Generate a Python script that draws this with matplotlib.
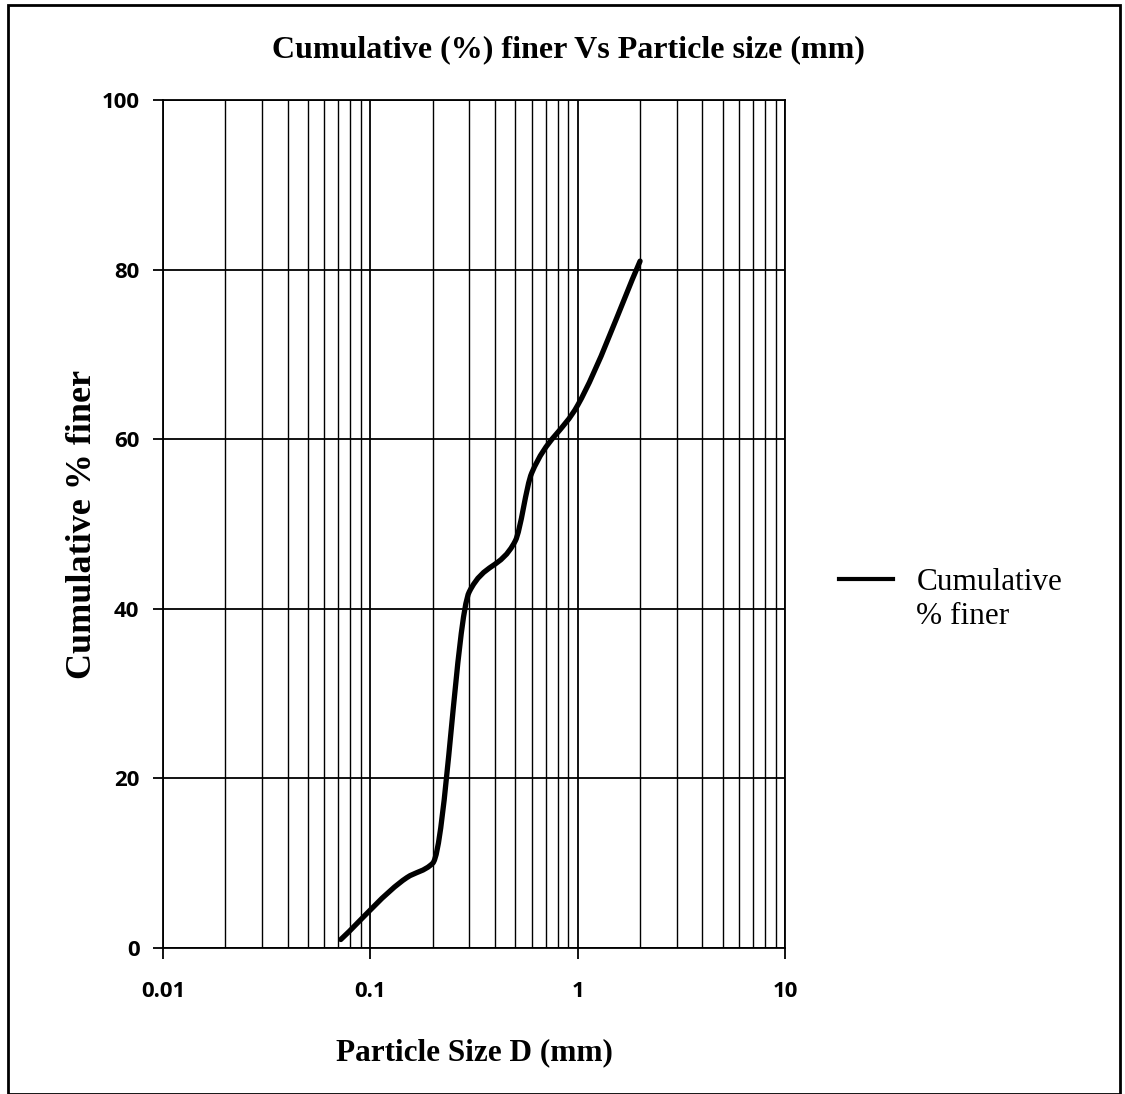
import numpy as np
import matplotlib
matplotlib.use("Agg")
import matplotlib.pyplot as plt
from matplotlib.path import Path
from matplotlib.patches import PathPatch, Rectangle
from matplotlib.lines import Line2D
from matplotlib.ticker import LogLocator, FixedLocator, NullFormatter

# Data
particle_size_mm = [0.072, 0.15, 0.2, 0.3, 0.5, 0.6, 1.0, 2.0]
cumulative_finer = [1.0, 8.3, 10.0, 42.0, 48.0, 56.0, 64.0, 81.0]
x_tick_values = [0.01, 0.1, 1, 10]
x_tick_labels = ["0.01", "0.1", "1", "10"]
y_tick_values = [0, 20, 40, 60, 80, 100]

fig = plt.figure(figsize=(11.25, 10.94), dpi=100)
ax = fig.add_axes([163/1125, 1 - 948/1094, (785-163)/1125, (948-100)/1094])
ax.set_xscale("log")
ax.set_xlim(0.01, 10)
ax.set_ylim(0, 100)

# Smooth monotone curve (cubic Bezier path with Fritsch-Carlson tangents in log-x space)
lx = np.log10(particle_size_mm)
yy = np.array(cumulative_finer, dtype=float)
n = len(lx)
h = np.diff(lx)
d = np.diff(yy) / h
m = np.zeros(n)
m[0], m[-1] = d[0], d[-1]
for i in range(1, n - 1):
    if d[i-1] * d[i] <= 0:
        m[i] = 0
    else:
        w1 = 2*h[i] + h[i-1]
        w2 = h[i] + 2*h[i-1]
        m[i] = (w1 + w2) / (w1/d[i-1] + w2/d[i])
verts = [(particle_size_mm[0], yy[0])]
codes = [Path.MOVETO]
for i in range(n - 1):
    c1 = (lx[i] + h[i]/3, yy[i] + m[i]*h[i]/3)
    c2 = (lx[i+1] - h[i]/3, yy[i+1] - m[i+1]*h[i]/3)
    for c in (c1, c2, (lx[i+1], yy[i+1])):
        verts.append((10**c[0], c[1]))
        codes.append(Path.CURVE4)
ax.add_patch(PathPatch(Path(verts, codes), facecolor="none", edgecolor="black", lw=3.8,
                       capstyle="round", joinstyle="round", zorder=5))

# Grid & ticks
ax.xaxis.set_major_locator(FixedLocator(x_tick_values))
ax.xaxis.set_minor_locator(LogLocator(base=10, subs=np.arange(2, 10)))
ax.xaxis.set_minor_formatter(NullFormatter())
ax.set_xticks(x_tick_values)
ax.set_xticklabels(x_tick_labels)
ax.set_yticks(y_tick_values)
ax.grid(True, which="major", axis="both", color="black", lw=1.3)
ax.grid(True, which="minor", axis="x", color="black", lw=1.0)
ax.tick_params(axis="x", which="major", length=8, width=1.3, direction="out", pad=16)
ax.tick_params(axis="x", which="minor", length=0)
ax.tick_params(axis="y", which="major", length=7, width=1.3, direction="out", pad=10)
for lab in ax.get_xticklabels() + ax.get_yticklabels():
    lab.set_fontfamily("Open Sans")
    lab.set_fontweight("bold")
    lab.set_fontsize(16)
for s in ax.spines.values():
    s.set_color("black")
    s.set_linewidth(1.3)

fig.text(568/1125, 1 - 50/1094, "Cumulative (%) finer Vs Particle size (mm)",
         fontfamily="Liberation Serif", fontweight="bold", fontsize=23,
         ha="center", va="center")
ax.set_xlabel("Particle Size D (mm)", fontfamily="Liberation Serif", fontweight="bold",
              fontsize=22.5, labelpad=26)
ax.set_ylabel("Cumulative % finer", fontfamily="Liberation Serif", fontweight="bold",
              fontsize=26, labelpad=2)

handles = [Line2D([], [], color="black", lw=3), Line2D([], [], color="none")]
fig.legend(handles, ["Cumulative", "% finer"], loc="upper left",
           bbox_to_anchor=(811/1125, 1 - 540/1094), frameon=False,
           prop={"family": "Liberation Serif", "size": 22.5},
           handlelength=1.72, handletextpad=0.75, labelspacing=0.15)

# Outer frame
fig.patches.append(Rectangle((8/1125, 0.0), (1120-8)/1125, 1 - 5/1094,
                             transform=fig.transFigure, fill=False, edgecolor="black", lw=2))

fig.savefig("out.png", dpi=100, facecolor="white")
